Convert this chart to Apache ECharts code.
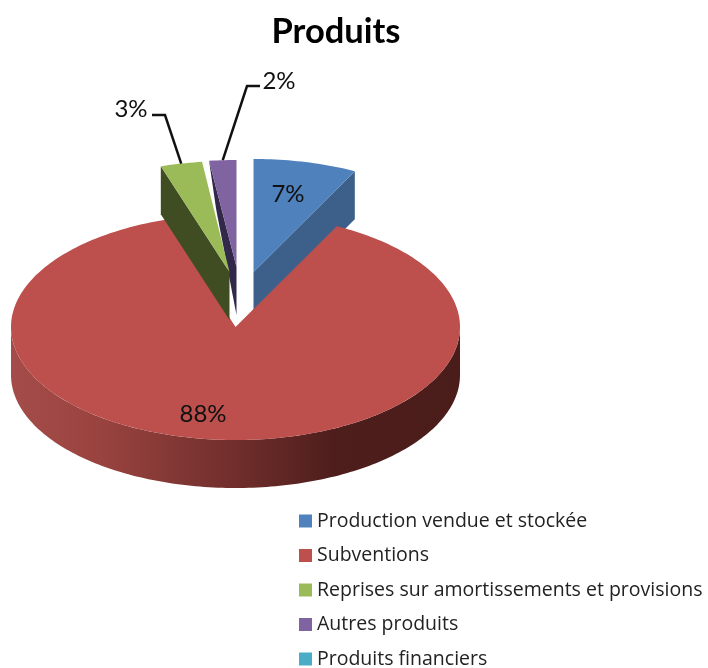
<!DOCTYPE html>
<html><head><meta charset="utf-8">
<style>html,body{margin:0;padding:0;background:#fff}#c{width:708px;height:668px}</style>
<script src="https://cdn.jsdelivr.net/npm/echarts@6/dist/echarts.min.js"></script>
</head><body><div id="c"></div>
<script>
const categories = ['Production vendue et stockée','Subventions','Reprises sur amortissements et provisions','Autres produits','Produits financiers'];
const values = [7.45, 87.6, 3.0, 1.95, 0];
const titleText = 'Produits';

// drawing constants
const topColors  = ['#4f81bd','#bd4f4c','#9bbb59','#8064a2','#4bacc6'];
const wallColors = ['#3c6089','#8a3a38','#404d22','#32284a','#2f6f80'];
const drawZ = [2,3,5,4,6];
const CX = 235.5, CY = 327, RX = 224.5, DEPTH = 48;
const sliceRY = [113,113,111,107,113];
const explode = [[18,-55],[0,0],[-6,-55],[1,-60],[0,0]];
const wallShift = [0,0,0,7,0];
const labelPos = [[288,194],[203,414],[131,109],[279,81],[0,0]];
const leader = [null,null,[[165,115],[152,115]],[[247,86],[260,86]],null];

const total = values.reduce((a,b)=>a+b,0);
const starts = []; values.reduce((a,v,i)=>{starts[i]=a;return a+v;},0);
const rad = v => v/total*Math.PI*2;
const pt = (t,o,ry,dy) => [CX+o[0]+RX*Math.sin(t), CY+o[1]-ry*Math.cos(t)+(dy||0)];
function arc(a,b,o,ry,dy){const n=Math.max(2,Math.ceil(Math.abs(b-a)/0.02));const r=[];for(let i=0;i<=n;i++)r.push(pt(a+(b-a)*i/n,o,ry,dy));return r;}

function renderSlice(params, api){
  const i = params.seriesIndex, v = api.value(0);
  if(!v) return {type:'group',children:[]};
  const o = explode[i], ry = sliceRY[i], a = rad(starts[i]), b = rad(starts[i]+v), apex=[CX+o[0],CY+o[1]];
  const kids = [];
  const lo = Math.max(a,Math.PI/2), hi = Math.min(b,Math.PI*1.5);
  if(hi>lo){
    const top = arc(lo,hi,o,ry), bot = arc(hi,lo,o,ry,DEPTH);
    kids.push({type:'polygon',shape:{points:top.concat(bot)},style:{fill:new echarts.graphic.LinearGradient(0,0,1,0,[
      {offset:0,color:'#a44c49'},{offset:0.2,color:'#99433f'},{offset:0.5,color:'#702e2c'},
      {offset:0.72,color:'#4e1e1c'},{offset:1,color:'#4a1c1a'}])}});
  } else {
    const edge = (a+b)/2 < Math.PI ? b : a, tip = pt(edge,o,ry), s = wallShift[i];
    kids.push({type:'polygon',shape:{points:[tip,[tip[0]+s,tip[1]+DEPTH],[apex[0],apex[1]+DEPTH],apex]},style:{fill:wallColors[i]}});
  }
  kids.push({type:'polygon',shape:{points:[apex].concat(arc(a,b,o,ry))},style:{fill:topColors[i]}});
  const pc = Math.round(v/total*100)+'%';
  const lp = labelPos[i];
  kids.push({type:'text',z2:10,style:{x:lp[0],y:lp[1],text:pc,font:'24px Lato',fill:'#111',align:'center',verticalAlign:'middle'}});
  if(leader[i]){
    const m = pt((a+b)/2,o,ry);
    kids.push({type:'polyline',z2:9,shape:{points:[m].concat(leader[i])},style:{fill:null,stroke:'#111',lineWidth:2.5}});
  }
  return {type:'group',children:kids};
}

const chart = echarts.init(document.getElementById('c'),null,{renderer:'canvas'});
chart.setOption({
  animation:false,
  color:topColors,
  title:{text:titleText,left:331,top:9,textAlign:'center',textStyle:{fontFamily:'Lato',fontWeight:'bold',fontSize:34.5,color:'#000'}},
  legend:{orient:'vertical',left:299,top:511,height:200,padding:0,itemWidth:13,itemHeight:13,itemGap:14.5,icon:'rect',data:categories,
    textStyle:{fontFamily:'Open Sans',fontSize:19.5,color:'#222'}},
  series:categories.map((n,i)=>({type:'custom',name:n,coordinateSystem:'none',z:drawZ[i],silent:true,
    itemStyle:{color:topColors[i]},renderItem:renderSlice,data:[[values[i]]]}))
});
</script></body></html>
